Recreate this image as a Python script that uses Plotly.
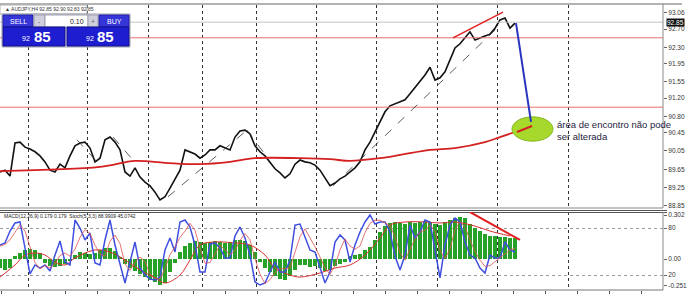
import plotly.graph_objects as go

# ---------------- data ----------------
close = [89.59, 89.63, 89.50, 90.22, 90.24, 90.13, 90.09, 90.03, 89.94, 89.81,
         89.63, 89.59, 89.76, 89.68, 89.94, 90.16, 90.22, 90.24, 90.11, 89.81,
         89.89, 90.29, 90.35, 90.24, 90.07, 89.59, 89.50, 89.68, 89.48, 89.37,
         89.29, 89.15, 88.98, 89.05, 89.24, 89.42, 89.63, 90.07, 90.03, 89.98,
         89.89, 89.96, 90.07, 90.07, 90.16, 90.11, 90.07, 90.35, 90.48, 90.50,
         90.42, 90.16, 90.03, 89.94, 89.79, 89.66, 89.57, 89.46, 89.55, 89.76,
         89.85, 89.81, 89.79, 89.74, 89.63, 89.46, 89.29, 89.35, 89.44, 89.50,
         89.59, 89.68, 89.81, 90.07, 90.24, 90.46, 90.68, 90.90, 91.03, 91.07,
         91.11, 91.16, 91.29, 91.42, 91.55, 91.70, 91.87, 91.59, 91.64, 91.77,
         92.03, 92.29, 92.38, 92.51, 92.64, 92.46, 92.51, 92.55, 92.59, 92.72,
         92.90, 92.94, 92.72, 92.83]
bars = list(range(len(close)))

ma_bars = [0, 20, 27, 33, 40, 46, 51, 60, 66, 70, 76, 80, 86, 91, 97, 100, 103]
ma_vals = [89.61, 89.70, 89.83, 89.79, 89.76, 89.81, 89.89, 89.89, 89.87, 89.83,
           89.89, 89.96, 90.07, 90.11, 90.24, 90.35, 90.46]

macd_hist = [-0.062, -0.075, -0.062, 0.021, 0.041, 0.062, 0.069, 0.062, 0.041, -0.027,
             -0.048, -0.055, -0.048, -0.034, -0.014, 0.027, 0.048, 0.041, 0.034, 0.041,
             0.062, 0.075, 0.075, 0.055, 0.007, -0.034, -0.062, -0.082, -0.103, -0.124,
             -0.144, -0.158, -0.178, -0.165, -0.089, -0.027, 0.048, 0.089, 0.110, 0.124,
             0.117, 0.110, 0.117, 0.124, 0.117, 0.110, 0.117, 0.130, 0.130, 0.124,
             0.096, 0.048, -0.021, -0.062, -0.089, -0.117, -0.137, -0.144, -0.117, -0.075,
             -0.041, -0.041, -0.055, -0.048, -0.062, -0.082, -0.075, -0.048, -0.034, -0.021,
             0.021, 0.027, 0.034, 0.062, 0.082, 0.130, 0.185, 0.226, 0.247, 0.254,
             0.247, 0.240, 0.254, 0.247, 0.254, 0.261, 0.254, 0.240, 0.233, 0.254,
             0.268, 0.281, 0.288, 0.281, 0.240, 0.213, 0.192, 0.172, 0.158, 0.158,
             0.151, 0.151, 0.144, 0.144]

sig_bars = [0, 3, 5, 7, 9, 11, 13, 15, 19, 22, 25, 28, 31, 33, 36, 38, 40, 43, 47, 50,
            53, 55, 58, 60, 64, 67, 70, 73, 76, 78, 81, 85, 88, 91, 95, 98, 102]
sig_vals = [-0.124, -0.041, 0.027, 0.041, 0.027, -0.021, -0.041, 0.007, 0.062, 0.048,
            -0.007, -0.075, -0.130, -0.165, -0.110, -0.007, 0.096, 0.117, 0.110, 0.096,
            0.027, -0.062, -0.110, -0.124, -0.096, -0.062, -0.041, 0.027, 0.144, 0.233,
            0.254, 0.254, 0.247, 0.254, 0.226, 0.192, 0.158]

stoch_k = [58.3, 60.9, 76.2, 86.4, 87.7, 54.5, 21.3, 32.8, 28.9, 32.8,
           25.1, 45.5, 63.4, 36.6, 32.8, 90.2, 80.0, 64.7, 73.6, 35.3,
           32.8, 64.7, 90.2, 58.3, 32.8, 9.8, 36.6, 62.1, 28.9, 20.0,
           14.9, 13.6, 17.4, 51.9, 67.2, 49.4, 87.7, 90.2, 81.3, 58.3,
           23.8, 23.8, 59.6, 60.9, 54.5, 41.7, 41.7, 69.8, 81.3, 67.2,
           45.5, 11.1, 7.2, 9.8, 23.8, 36.6, 23.8, 23.8, 39.1, 83.8,
           85.1, 67.2, 51.9, 49.4, 28.9, 9.8, 23.8, 62.1, 71.1, 64.7,
           36.6, 58.3, 74.9, 87.7, 96.6, 85.1, 87.7, 87.7, 74.9, 44.3,
           26.4, 45.5, 83.8, 67.2, 74.9, 90.2, 87.7, 49.4, 16.2, 58.3,
           83.8, 92.8, 87.7, 62.1, 45.5, 41.7, 28.9, 22.6, 45.5, 41.7,
           41.7, 62.1, 51.9, 49.4]
stoch_d = [57, 59, 65, 75, 84, 76, 55, 36, 28, 32,
           29, 34, 45, 48, 44, 53, 68, 78, 73, 58,
           47, 44, 63, 71, 60, 34, 26, 36, 43, 37,
           21, 16, 15, 28, 46, 56, 68, 76, 86, 77,
           54, 35, 36, 48, 58, 52, 46, 51, 64, 73,
           65, 41, 21, 9, 14, 23, 28, 28, 29, 49,
           69, 79, 68, 56, 43, 29, 21, 32, 52, 66,
           57, 53, 57, 74, 86, 90, 90, 87, 83, 69,
           48, 39, 52, 66, 75, 77, 84, 76, 51, 41,
           53, 78, 88, 81, 65, 50, 39, 31, 32, 37,
           43, 48, 52, 54]

price_ticks = [93.06, 92.70, 92.30, 91.95, 91.55, 91.20, 90.80, 90.45, 90.05, 89.65, 89.25, 88.85]
red_levels = [92.51, 91.00]
bid_price = 92.85
stoch_levels = [80, 20]
macd_ticks = [0.302, 0.0, -0.185]
macd_tick_text = ["0.302", "0.00", "-0.251"]
grid_bars = [5.6, 17.4, 29.6, 40.4, 51.2, 63.2, 75.2, 87.4, 99.4, 113.6]

# ---------------- layout helpers ----------------
W, H, R = 690, 300, 27
PW = W - R


def px(x):
    return x / PW


def py(y):
    return 1 - y / H


FONT = "Liberation Sans, Arial, sans-serif"

fig = go.Figure()

# price
fig.add_trace(go.Scatter(x=bars, y=close, mode="lines",
                         line=dict(color="#111111", width=1.6), xaxis="x", yaxis="y"))
fig.add_trace(go.Scatter(x=ma_bars, y=ma_vals, mode="lines",
                         line=dict(color="#d42020", width=1.8, shape="spline"), xaxis="x", yaxis="y"))

# MACD
fig.add_trace(go.Bar(x=bars, y=macd_hist, width=0.7, marker=dict(color="#27a127", line=dict(width=0)),
                     xaxis="x2", yaxis="y3"))
fig.add_trace(go.Scatter(x=sig_bars, y=sig_vals, mode="lines",
                         line=dict(color="#d83030", width=1, shape="spline"), xaxis="x2", yaxis="y3"))
# Stochastic
fig.add_trace(go.Scatter(x=bars, y=stoch_k, mode="lines",
                         line=dict(color="#3f4fe0", width=1.5), xaxis="x2", yaxis="y4"))
fig.add_trace(go.Scatter(x=bars, y=stoch_d, mode="lines",
                         line=dict(color="#e05050", width=0.8), xaxis="x2", yaxis="y4"))

shapes = []
annotations = []

# horizontal levels
for lv in red_levels:
    shapes.append(dict(type="line", xref="paper", yref="y", x0=0, x1=1, y0=lv, y1=lv,
                       line=dict(color="#e77070", width=1)))
shapes.append(dict(type="line", xref="paper", yref="y", x0=0, x1=1, y0=bid_price, y1=bid_price,
                   line=dict(color="#c4c4c4", width=1)))

# frame lines
def pline(x0, y0, x1, y1, color, w=1):
    shapes.append(dict(type="line", xref="paper", yref="paper", x0=px(x0), x1=px(x1),
                       y0=py(y0), y1=py(y1), line=dict(color=color, width=w)))

pline(0, 4, 682, 4, "#9a9a9a", 1.5)
pline(PW, 4, PW, 208, "#888888", 1)
pline(0, 208, PW, 208, "#888888", 1)
pline(0, 210.5, PW + 4, 210.5, "#555555", 1.2)
pline(0, 212.5, PW + 4, 212.5, "#555555", 1.2)
pline(PW, 212, PW, 290, "#888888", 1)
pline(0, 290, PW, 290, "#777777", 1.2)

# drawings on price chart
shapes.append(dict(type="line", xref="x", yref="y", x0=90.6, y0=92.51, x1=100.6, y1=93.07,
                   line=dict(color="#e02020", width=1.5)))
for (a, b, c, d) in [(33.6, 89.05, 49.4, 90.50), (66.6, 89.29, 99.4, 92.72),
                     (22.6, 90.35, 26.6, 89.85), (15.4, 90.29, 19.4, 89.81),
                     (49.4, 90.50, 52.6, 90.03)]:
    shapes.append(dict(type="line", xref="x", yref="y", x0=a, y0=b, x1=c, y1=d,
                       line=dict(color="#333333", width=0.8, dash="dash")))
shapes.append(dict(type="circle", xref="x", yref="y", x0=102.4, x1=110.6, y0=90.26, y1=90.79,
                   fillcolor="#a6d92c", line=dict(color="#86b820", width=1)))
shapes.append(dict(type="line", xref="x", yref="y", x0=103.4, y0=90.46, x1=106.4, y1=90.59,
                   line=dict(color="#d42020", width=2)))
shapes.append(dict(type="line", xref="x", yref="y", x0=103.2, y0=92.83, x1=106.2, y1=90.68,
                   line=dict(color="#2a35c0", width=2)))
# drawing on oscillator
shapes.append(dict(type="line", xref="x2", yref="y4", x0=94, y0=100.4, x1=104, y1=64.7,
                   line=dict(color="#e02020", width=2)))

annotations.append(dict(x=111, y=90.49, xref="x", yref="y", xanchor="left", yanchor="middle",
                        text="área de encontro não pode<br>ser alterada", showarrow=False, align="left",
                        font=dict(family=FONT, size=9.5, color="#1c1c3c")))

# bid box
annotations.append(dict(x=1, y=bid_price, xref="paper", yref="y", xanchor="left", yanchor="middle",
                        xshift=3, text="92.85", showarrow=False, bgcolor="#111111", borderpad=0,
                        font=dict(family=FONT, size=6.5, color="white")))

# indicator caption
annotations.append(dict(x=px(2), y=py(215.5), xref="paper", yref="paper", xanchor="left", yanchor="middle",
                        text="MACD(12,26,9) 0.179 0.179  Stoch(5,3,3) 88.9909 45.0742", showarrow=False,
                        font=dict(family=FONT, size=5, color="#222222")))

# one-click panel
def rect(x0, y0, x1, y1, fill, line="#8888aa", w=1):
    shapes.append(dict(type="rect", xref="paper", yref="paper", x0=px(x0), x1=px(x1),
                       y0=py(y1), y1=py(y0), fillcolor=fill, line=dict(color=line, width=w)))


def txt(x, y, t, size, color="white", anchor="center", bold=False):
    annotations.append(dict(x=px(x), y=py(y), xref="paper", yref="paper", xanchor=anchor,
                            yanchor="middle", text=("<b>%s</b>" % t) if bold else t, showarrow=False,
                            font=dict(family=FONT, size=size, color=color)))


rect(0, 5, 87, 14, "white", "#b0b0b0", 1)
txt(3, 9.5, "▲ AUDJPY,H4 92.85 92.90 92.83 92.85", 5, "#333333", "left")
rect(2, 14, 130, 47, "#dcdce6", "#a0a0b0", 1)
rect(3, 15, 33, 27, "#3535d8", "#2020a0")
rect(34, 15, 45, 27, "#d0d0dc", "#a0a0b0")
rect(45, 15, 88, 27, "#ffffff", "#a0a0b0")
rect(88, 15, 98, 27, "#d0d0dc", "#a0a0b0")
rect(99, 15, 129, 27, "#3535d8", "#2020a0")
rect(3, 27, 65, 46, "#1e1ed0", "#10108a")
rect(67, 27, 129, 46, "#1e1ed0", "#10108a")
txt(18, 21, "SELL", 7)
txt(39.5, 21, "-", 7, "#666666")
txt(86, 21, "0.10", 7, "#222222", "right")
txt(93, 21, "+", 7, "#666666")
txt(114, 21, "BUY", 7)
txt(26.5, 38.5, "92", 7)
txt(42, 37, "85", 15, "white", "center", True)
txt(90, 38.5, "92", 7)
txt(105.5, 37, "85", 15, "white", "center", True)

tickfont = dict(family=FONT, size=6.5, color="#333333")

fig.update_layout(
    width=W, height=H, margin=dict(l=0, r=R, t=0, b=0),
    paper_bgcolor="white", plot_bgcolor="white", showlegend=False, hovermode=False,
    bargap=0,
    xaxis=dict(domain=[0, 1], anchor="y", range=[0, 132.6], tickmode="array", tickvals=grid_bars,
               showticklabels=False, ticks="", showgrid=True, gridcolor="#333333", griddash="dot",
               gridwidth=1, zeroline=False, showline=False, automargin=False),
    yaxis=dict(domain=[py(208), py(5)], anchor="x", side="right", range=[88.806, 93.224],
               tickmode="array", tickvals=price_ticks, ticktext=["%.2f" % v for v in price_ticks],
               ticks="outside", ticklen=3, tickcolor="#666666", tickfont=tickfont,
               showgrid=False, zeroline=False, showline=False, automargin=False),
    xaxis2=dict(domain=[0, 1], anchor="y3", range=[0, 132.6], tickmode="array", tickvals=grid_bars,
                showticklabels=False, ticks="", showgrid=True, gridcolor="#333333", griddash="dot",
                gridwidth=1, zeroline=False, showline=False, automargin=False,
                minor=dict(tickmode="linear", tick0=6.6, dtick=6.4, ticks="outside", ticklen=3,
                           tickcolor="#555555", showgrid=False)),
    yaxis3=dict(domain=[py(290), py(212)], anchor="x2", side="right", range=[-0.2128, 0.3226],
                tickmode="array", tickvals=macd_ticks, ticktext=macd_tick_text,
                ticks="outside", ticklen=3, tickcolor="#666666", tickfont=tickfont,
                showgrid=False, zeroline=False, showline=False, automargin=False),
    yaxis4=dict(overlaying="y3", anchor="x2", side="right", range=[0.85, 100.43],
                tickmode="array", tickvals=stoch_levels, ticktext=[str(v) for v in stoch_levels],
                ticks="outside", ticklen=3, tickcolor="#666666", tickfont=tickfont,
                showgrid=True, gridcolor="#999999", griddash="dot", gridwidth=1,
                zeroline=False, showline=False, automargin=False),
    shapes=shapes, annotations=annotations,
)

fig.write_html("out.html")
